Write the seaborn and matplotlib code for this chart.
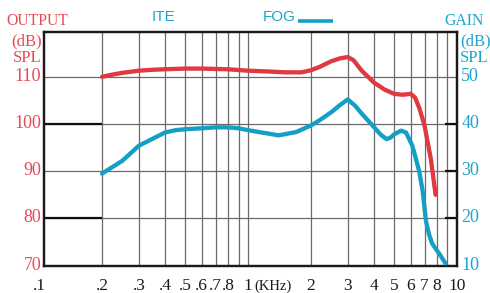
import matplotlib
matplotlib.use("Agg")
import matplotlib.pyplot as plt
import matplotlib.transforms as mtransforms
import seaborn as sns
import pandas as pd

# ---- data ----
out_freq = [0.2, 0.22, 0.25, 0.3, 0.35, 0.4, 0.5, 0.6, 0.8, 1.0, 1.3, 1.5,
            1.8, 2.0, 2.2, 2.5, 2.75, 3.0, 3.2, 3.5, 4.0, 4.5, 5.0, 5.5,
            6.0, 6.3, 6.6, 7.0, 7.5, 7.9]
out_db = [110.0, 110.4, 110.85, 111.3, 111.5, 111.6, 111.75, 111.75, 111.6,
          111.3, 111.1, 110.95, 110.95, 111.4, 112.1, 113.3, 113.9, 114.2,
          113.5, 111.3, 108.8, 107.3, 106.4, 106.2, 106.4, 105.6, 103.4,
          99.6, 92.5, 85.0]

gain_freq = [0.2, 0.25, 0.3, 0.35, 0.4, 0.45, 0.5, 0.6, 0.7, 0.8, 0.9, 1.0,
             1.2, 1.4, 1.7, 2.0, 2.2, 2.5, 2.75, 3.0, 3.25, 3.5, 4.0, 4.3,
             4.6, 4.8, 5.0, 5.4, 5.7, 6.1, 6.3, 6.6, 6.85, 7.1, 7.35, 7.6,
             7.9, 8.2, 8.8]
gain_db = [29.5, 32.2, 35.4, 36.9, 38.2, 38.7, 38.9, 39.1, 39.3, 39.3, 39.1,
           38.7, 38.1, 37.6, 38.3, 39.7, 40.8, 42.5, 44.0, 45.2, 43.9, 42.2,
           39.4, 37.8, 36.8, 37.1, 37.8, 38.6, 38.2, 35.5, 33.3, 29.9, 25.8,
           19.5, 16.6, 14.7, 13.6, 12.6, 10.5]

left_ticks = [70, 80, 90, 100, 110]
right_ticks = [10, 20, 30, 40, 50]
x_ticks = [0.2, 0.3, 0.4, 0.5, 0.6, 0.7, 0.8, 1, 2, 3, 4, 5, 6, 7, 8, 10]
x_labels = [".2", ".3", ".4", ".5", ".6", ".7", ".8", "1", "2", "3", "4",
            "5", "6", "7", "8", "10"]
grid_x = [0.2, 0.3, 0.4, 0.5, 0.6, 0.7, 0.8, 0.9, 1, 2, 3, 4, 5, 6, 7, 8, 9]

RED = "#e0393f"
RED_T = "#e64b55"
BLUE = "#169fc6"
BLUE_T = "#1aa6cc"

sns.set_theme(style="white")
plt.rcParams["font.family"] = ["Liberation Serif", "DejaVu Serif"]

fig = plt.figure(figsize=(4.9, 2.93), dpi=100)
ax = fig.add_axes([44 / 490, 1 - 265.6 / 293, (457 - 44) / 490, (265.6 - 32) / 293])
ax2 = ax.twinx()

ax.set_xscale("log")
ax.set_xlim(0.1055, 10)
ax.set_ylim(70, 119.5)
ax2.set_ylim(10, 59.5)

# grid
for g in grid_x:
    ax.axvline(g, color="#6a6a6a", lw=0.9, zorder=1)
for h in [80, 90, 100, 110]:
    ax.axhline(h, color="#6a6a6a", lw=0.9, zorder=1)
ytr = ax.get_yaxis_transform()
for h in [80, 100]:
    ax.plot([0, 0.14], [h, h], color="#111111", lw=1.6, transform=ytr,
            solid_capstyle="butt", zorder=2)
for h in [20, 30, 40]:
    ax.plot([0.972, 1.0], [h + 60, h + 60], color="#111111", lw=1.6,
            transform=ytr, solid_capstyle="butt", zorder=2)

df_out = pd.DataFrame({"f": out_freq, "db": out_db})
df_gain = pd.DataFrame({"f": gain_freq, "db": gain_db})
sns.lineplot(data=df_out, x="f", y="db", ax=ax, color=RED, lw=3.1,
             sort=False, zorder=3)
sns.lineplot(data=df_gain, x="f", y="db", ax=ax2, color=BLUE, lw=3.1,
             sort=False, zorder=3)
for line in ax.get_lines() + ax2.get_lines():
    line.set_solid_joinstyle("round")

ax.set_xlabel("")
ax.set_ylabel("")
ax2.set_ylabel("")

for a in (ax, ax2):
    for s in a.spines.values():
        s.set_color("#1a1a1a")
        s.set_linewidth(1.6)

ax.set_xticks(x_ticks)
ax.set_xticklabels(x_labels)
ax.minorticks_off()
ax.tick_params(axis="x", length=0, pad=9, labelsize=12.5, labelcolor="#1a1a1a")
ax.set_yticks(left_ticks)
ax.set_yticklabels([str(v) for v in left_ticks])
ax.tick_params(axis="y", length=0, pad=2, labelsize=13, labelcolor=RED_T)
ax2.set_yticks(right_ticks)
ax2.set_yticklabels([str(v) for v in right_ticks])
ax2.tick_params(axis="y", length=0, pad=3, labelsize=13, labelcolor=BLUE_T)

up = mtransforms.ScaledTranslation(0, 2.5 / 100, fig.dpi_scale_trans)
for lab in ax.get_yticklabels() + ax2.get_yticklabels():
    lab.set_transform(lab.get_transform() + up)

xtr = ax.get_xaxis_transform()
ax.text(0.1, -0.055, ".1", transform=xtr, ha="center", va="top",
        fontsize=12.5, color="#1a1a1a", clip_on=False)
ax.text(1.32, -0.06, "(KHz)", transform=xtr, ha="center", va="top",
        fontsize=10.5, color="#1a1a1a", clip_on=False)

# axis titles
fig.text(37.5 / 490, 1 - 20.7 / 293, "OUTPUT", ha="center", va="center",
         fontsize=11.3, color=RED_T)
fig.text(41.7 / 490, 1 - 41 / 293, "(dB)", ha="right", va="center",
         fontsize=12, color=RED_T)
fig.text(41.7 / 490, 1 - 58 / 293, "SPL", ha="right", va="center",
         fontsize=12, color=RED_T)
fig.text(464 / 490, 1 - 20.7 / 293, "GAIN", ha="center", va="center",
         fontsize=11.3, color=BLUE_T)
fig.text(460 / 490, 1 - 41 / 293, "(dB)", ha="left", va="center",
         fontsize=12, color=BLUE_T)
fig.text(460 / 490, 1 - 58 / 293, "SPL", ha="left", va="center",
         fontsize=12, color=BLUE_T)

# legend-like labels
fig.text(163 / 490, 1 - 16.7 / 293, "ITE", ha="center", va="center",
         fontsize=11, color=BLUE_T, family=["Liberation Sans", "DejaVu Sans"])
fig.text(279 / 490, 1 - 16.7 / 293, "FOG", ha="center", va="center",
         fontsize=11, color=BLUE_T, family=["Liberation Sans", "DejaVu Sans"])
fig.add_artist(plt.Line2D([298.3 / 490, 332.7 / 490],
                          [1 - 20.7 / 293, 1 - 20.7 / 293],
                          color=BLUE, lw=2.6, solid_capstyle="butt"))

fig.savefig("out.png", dpi=100)
